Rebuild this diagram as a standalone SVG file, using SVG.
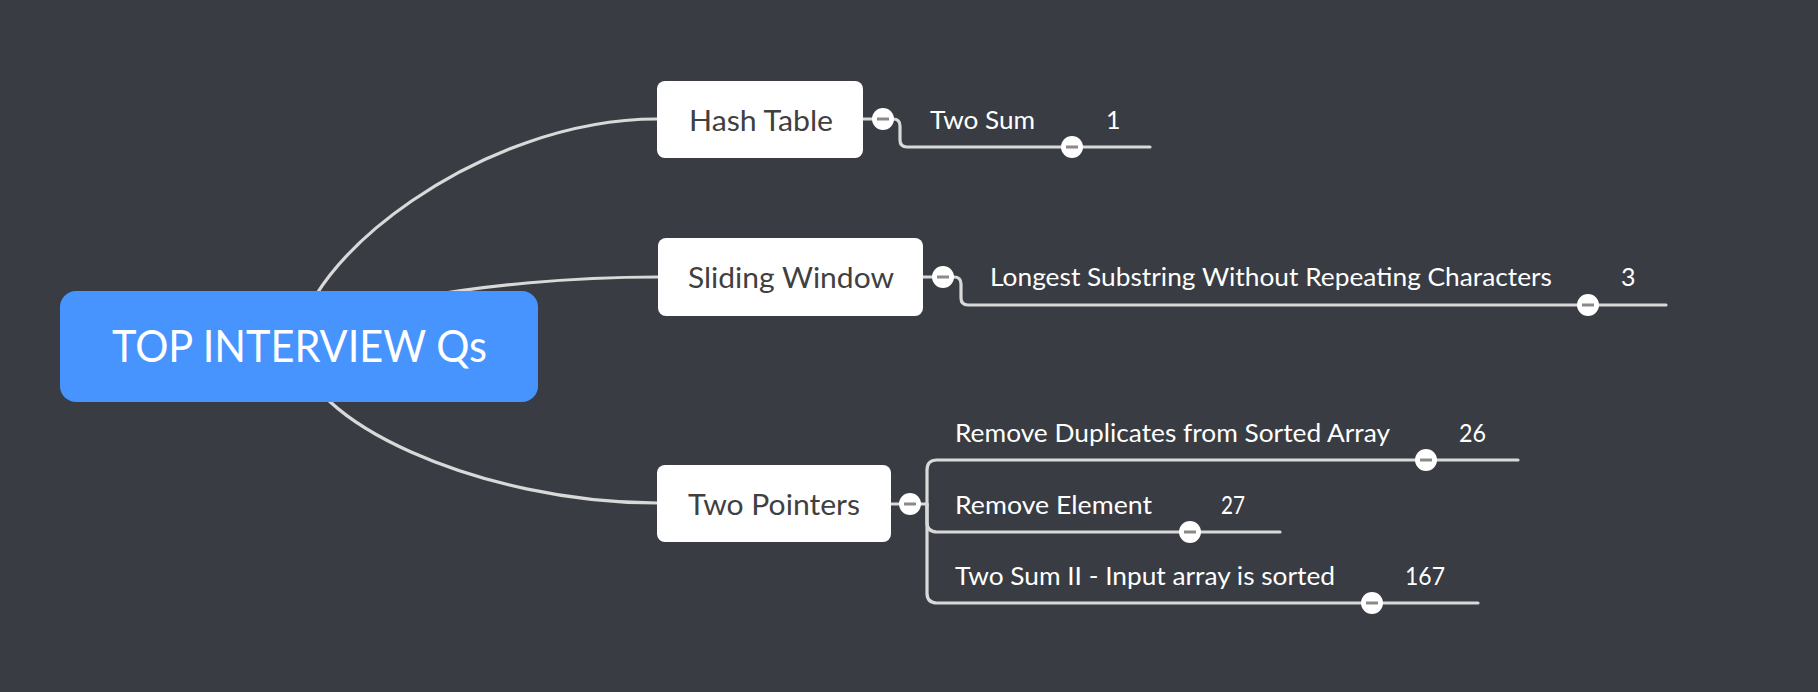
<svg xmlns="http://www.w3.org/2000/svg" width="1818" height="692" viewBox="0 0 1818 692">
<style>
.bg{fill:#393c42}
.conn{fill:none;stroke:#d9d9d9;stroke-width:3.2;stroke-linecap:round}
.box{fill:#ffffff}
.root{fill:#4894fe}
.t{font-family:Lato,"Liberation Sans",sans-serif}
.rt{fill:#ffffff;font-size:44px}
.nt{fill:#404040;font-size:29px}
.ct{fill:#ffffff;font-size:25px}
.btn{fill:#ffffff}
.bar{fill:#8a8a8a}
</style>
<defs>
<g id="collapse"><circle r="11" class="btn"/><rect x="-6" y="-1.5" width="12" height="3" class="bar"/></g>
</defs>
<rect class="bg" x="0" y="0" width="1818" height="692"/>
<g id="connectors">
<path class="conn" d="M299,346 C299,262 480,119 657,119"/>
<path class="conn" d="M299,346 C299,312 480,277 658,277"/>
<path class="conn" d="M299,346 C299,420 480,503 657,503"/>
<path class="conn" d="M862,119 H893 Q900,119 900,126 V140 Q900,147 907,147 H1150"/>
<path class="conn" d="M922,277 H954 Q961,277 961,284 V298 Q961,305 968,305 H1666"/>
<path class="conn" d="M890,504 H927 V470 Q927,460 937,460 H1518"/>
<path class="conn" d="M927,504 V522 Q927,532 937,532 H1280"/>
<path class="conn" d="M927,504 V593 Q927,603 937,603 H1478"/>
</g>
<g id="root">
<rect class="root" x="60" y="291" width="478" height="111" rx="16"/>
<text class="t rt" x="112" y="362" textLength="375" lengthAdjust="spacingAndGlyphs">TOP INTERVIEW Qs</text>
</g>
<g id="hash-table">
<rect class="box" x="657" y="81" width="206" height="77" rx="8"/>
<text class="t nt" x="689" y="131" textLength="144" lengthAdjust="spacingAndGlyphs">Hash Table</text>
<use href="#collapse" x="883" y="119"/>
</g>
<g id="sliding-window">
<rect class="box" x="658" y="238" width="265" height="78" rx="8"/>
<text class="t nt" x="688" y="288" textLength="206" lengthAdjust="spacingAndGlyphs">Sliding Window</text>
<use href="#collapse" x="943" y="277"/>
</g>
<g id="two-pointers">
<rect class="box" x="657" y="465" width="234" height="77" rx="8"/>
<text class="t nt" x="688" y="515" textLength="172" lengthAdjust="spacingAndGlyphs">Two Pointers</text>
<use href="#collapse" x="910" y="504"/>
</g>
<g id="two-sum">
<text class="t ct" x="930" y="129" textLength="105" lengthAdjust="spacingAndGlyphs">Two Sum</text>
<text class="t ct" x="1106" y="129">1</text>
<use href="#collapse" x="1072" y="147"/>
</g>
<g id="longest-substring">
<text class="t ct" x="990" y="286" textLength="562" lengthAdjust="spacingAndGlyphs">Longest Substring Without Repeating Characters</text>
<text class="t ct" x="1621" y="286">3</text>
<use href="#collapse" x="1588" y="305"/>
</g>
<g id="remove-duplicates">
<text class="t ct" x="955" y="442" textLength="435" lengthAdjust="spacingAndGlyphs">Remove Duplicates from Sorted Array</text>
<text class="t ct" x="1459" y="442" textLength="27" lengthAdjust="spacingAndGlyphs">26</text>
<use href="#collapse" x="1426" y="460"/>
</g>
<g id="remove-element">
<text class="t ct" x="955" y="514" textLength="197" lengthAdjust="spacingAndGlyphs">Remove Element</text>
<text class="t ct" x="1221" y="514" textLength="24" lengthAdjust="spacingAndGlyphs">27</text>
<use href="#collapse" x="1190" y="532"/>
</g>
<g id="two-sum-ii">
<text class="t ct" x="955" y="585" textLength="380" lengthAdjust="spacingAndGlyphs">Two Sum II - Input array is sorted</text>
<text class="t ct" x="1405" y="585" textLength="40" lengthAdjust="spacingAndGlyphs">167</text>
<use href="#collapse" x="1372" y="603"/>
</g>
</svg>
